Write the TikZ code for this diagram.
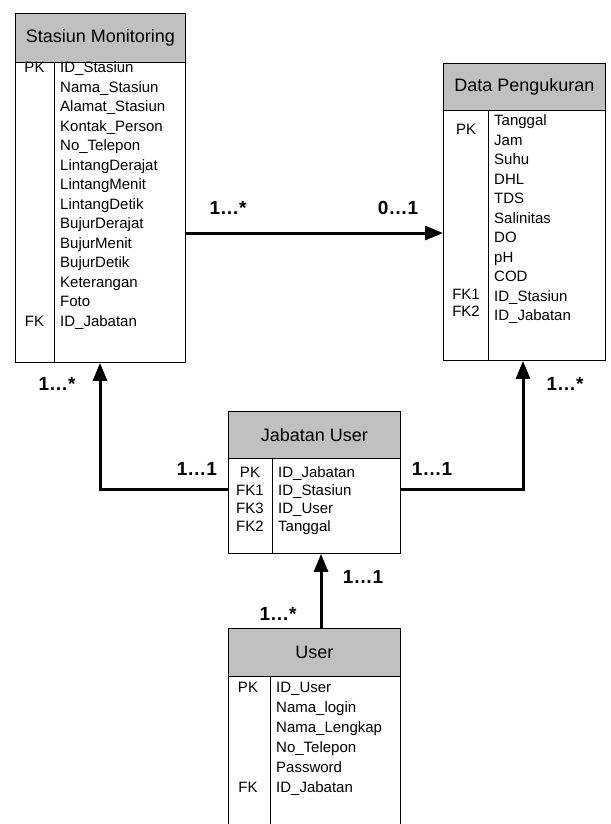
\documentclass[tikz,border=0pt]{standalone}
\usepackage{fontspec}
\setmainfont{Liberation Sans}
\usetikzlibrary{arrows.meta}
\definecolor{hdrgray}{RGB}{192,192,192}
\begin{document}
\begin{tikzpicture}[x=1pt,y=-1pt,
  hdr/.style={draw, line width=0.9pt, fill=hdrgray, inner sep=0pt, anchor=north west, font=\fontsize{18}{21}\selectfont},
  bodybox/.style={draw, line width=0.9pt, fill=white, inner sep=0pt, anchor=north west},
  divline/.style={line width=0.9pt},
  attr/.style={anchor=mid west, inner sep=0pt, font=\fontsize{15}{18}\selectfont},
  keyt/.style={anchor=mid, inner sep=0pt, font=\fontsize{15}{18}\selectfont},
  card/.style={inner sep=0pt, font=\bfseries\fontsize{19}{22}\selectfont},
  conn/.style={line width=3pt, -{Triangle[length=18pt,width=14pt]}}
]
\useasboundingbox[fill=white] (0,0) rectangle (610,824);

% ---------- Stasiun Monitoring ----------
\node[hdr, minimum width=170, minimum height=49] (smh) at (15,13) {Stasiun Monitoring};
\node[bodybox, minimum width=170, minimum height=300] (smb) at (15,62) {};
\draw[divline] ([xshift=39pt]smb.north west) -- ([xshift=39pt]smb.south west);
\foreach \t [count=\i from 0] in {ID\_Stasiun,Nama\_Stasiun,Alamat\_Stasiun,Kontak\_Person,No\_Telepon,LintangDerajat,LintangMenit,LintangDetik,BujurDerajat,BujurMenit,BujurDetik,Keterangan,Foto,ID\_Jabatan}
  \node[attr] (sma\i) at (60,70+19.5*\i) {\t};
\node[keyt] (smk1) at (34.5,70) {PK};
\node[keyt] (smk2) at (34.5,323.5) {FK};

% ---------- Data Pengukuran ----------
\node[hdr, minimum width=162, minimum height=47] (dph) at (443,63) {Data Pengukuran};
\node[bodybox, minimum width=162, minimum height=250] (dpb) at (443,110) {};
\draw[divline] ([xshift=45pt]dpb.north west) -- ([xshift=45pt]dpb.south west);
\foreach \t [count=\i from 0] in {Tanggal,Jam,Suhu,DHL,TDS,Salinitas,DO,pH,COD,ID\_Stasiun,ID\_Jabatan}
  \node[attr] (dpa\i) at (494,123+19.5*\i) {\t};
\node[keyt] (dpk1) at (466,132) {PK};
\node[keyt] (dpk2) at (466,297) {FK1};
\node[keyt] (dpk3) at (466,314) {FK2};

% ---------- Jabatan User ----------
\node[hdr, minimum width=172, minimum height=47] (juh) at (228,411) {Jabatan User};
\node[bodybox, minimum width=172, minimum height=95] (jub) at (228,458) {};
\draw[divline] ([xshift=44pt]jub.north west) -- ([xshift=44pt]jub.south west);
\foreach \t/\k [count=\i from 0] in {ID\_Jabatan/PK,ID\_Stasiun/FK1,ID\_User/FK3,Tanggal/FK2}{
  \node[attr] (jua\i) at (278,475+18*\i) {\t};
  \node[keyt] (juk\i) at (250,475+18*\i) {\k};
}

% ---------- User ----------
\node[hdr, minimum width=172, minimum height=48] (ush) at (228,628) {User};
\node[bodybox, minimum width=172, minimum height=170] (usb) at (228,676) {};
\draw[divline] ([xshift=42pt]usb.north west) -- ([xshift=42pt]usb.south west);
\foreach \t [count=\i from 0] in {ID\_User,Nama\_login,Nama\_Lengkap,No\_Telepon,Password,ID\_Jabatan}
  \node[attr] (usa\i) at (276,690+20*\i) {\t};
\node[keyt] (usk1) at (248,690) {PK};
\node[keyt] (usk2) at (248,790) {FK};

% ---------- connectors ----------
\coordinate (yA) at (0,233);
\coordinate (yB) at (0,489);
\coordinate (xL) at (100,0);
\coordinate (xR) at (523,0);
\coordinate (xB) at (321,0);
\draw[conn] (smb.east |- yA) -- (dpb.west |- yA);
\draw[conn] (jub.west |- yB) -| (smb.south -| xL);
\draw[conn] (jub.east |- yB) -| (dpb.south -| xR);
\draw[conn] (ush.north -| xB) -- (jub.south -| xB);

% ---------- cardinalities ----------
\node[card] (c1) at (228,208) {1…*};
\node[card] (c2) at (398,208) {0…1};
\node[card] (c3) at (57,384) {1…*};
\node[card] (c4) at (565,384) {1…*};
\node[card] (c5) at (197,469) {1…1};
\node[card] (c6) at (432,469) {1…1};
\node[card] (c7) at (363,577) {1…1};
\node[card] (c8) at (278,614) {1…*};
\end{tikzpicture}
\end{document}
